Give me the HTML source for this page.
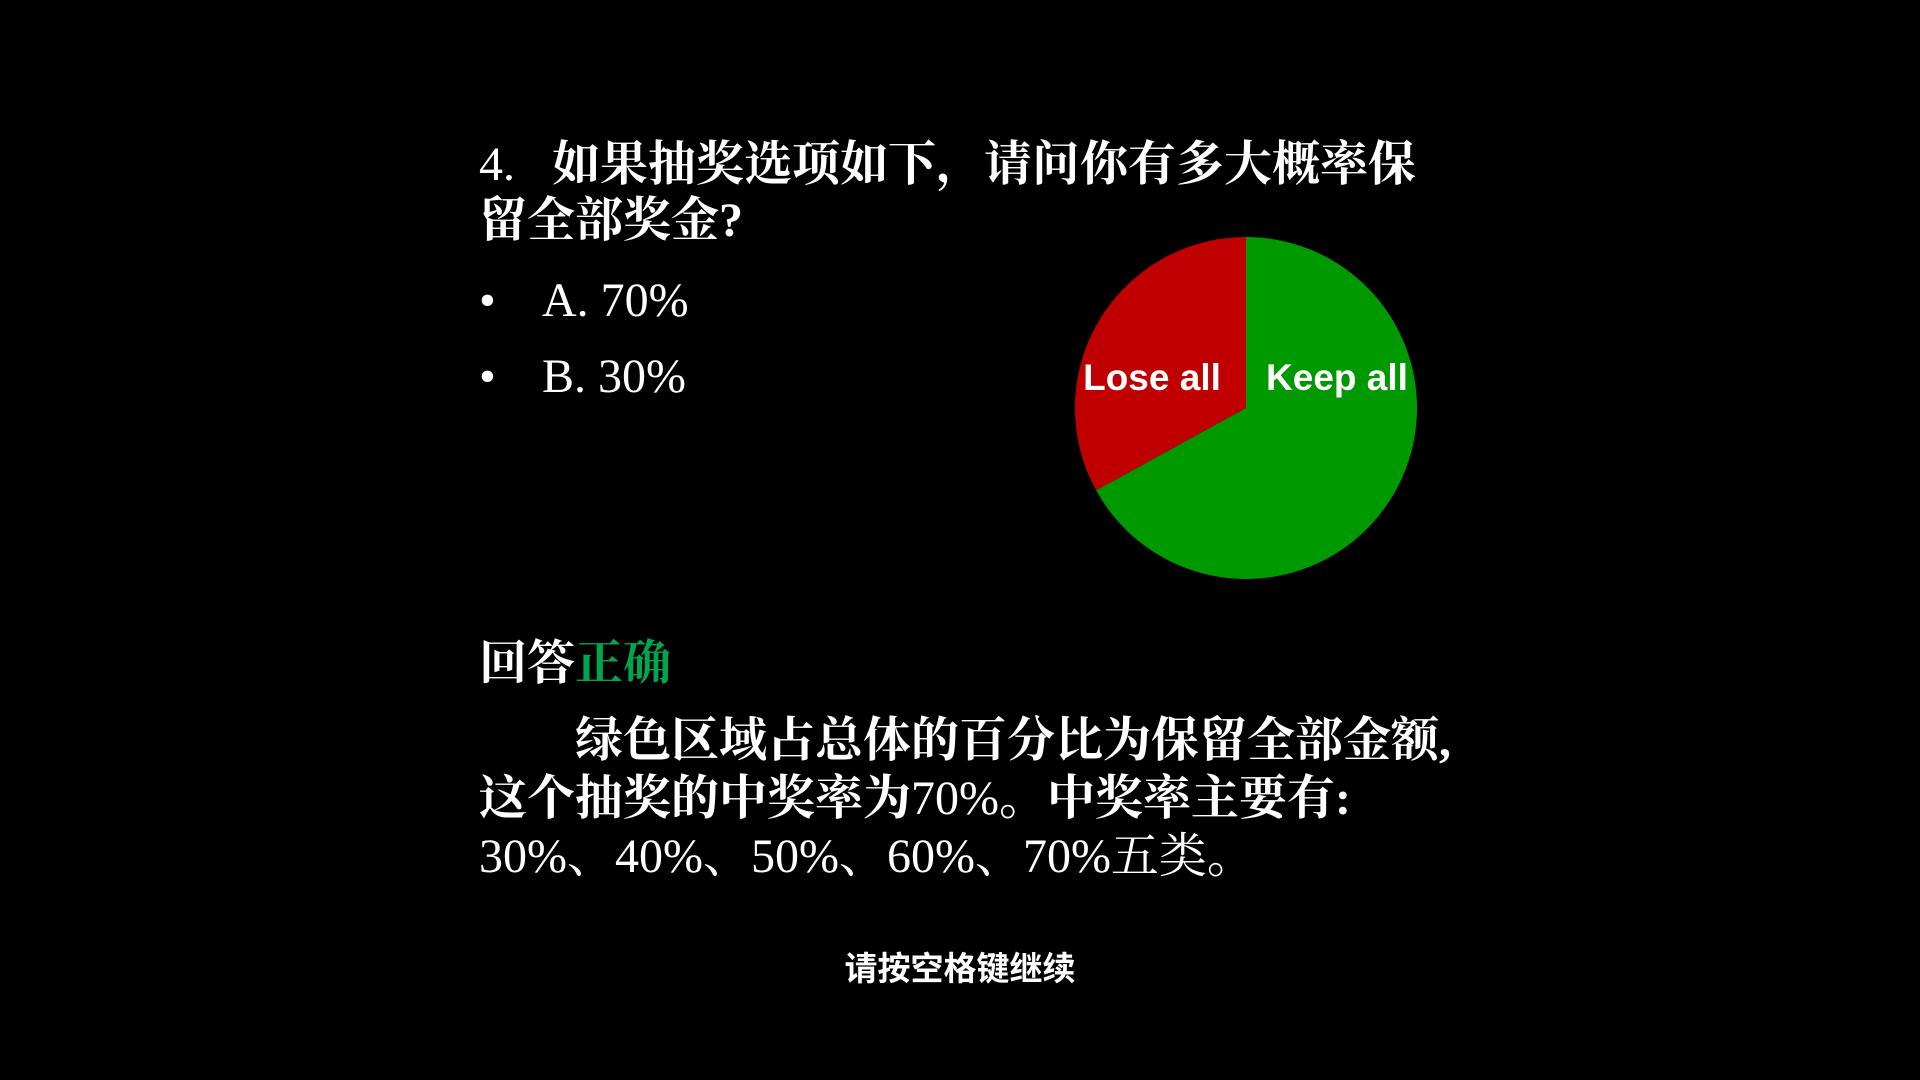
<!DOCTYPE html>
<html><head><meta charset="utf-8">
<style>
html,body{margin:0;padding:0;background:#000;}
#slide{position:relative;width:1920px;height:1080px;background:#000;overflow:hidden;color:#fff;font-family:"Liberation Serif","Noto Serif CJK SC",serif;}
.t{position:absolute;white-space:nowrap;line-height:1;}
.b{font-weight:bold;}
</style></head><body>
<div id="slide">
  <div class="t" style="left:479px;top:141px;font-size:48px;">4.<span style="display:inline-block;width:37px"></span><span class="b">如果抽奖选项如下，请问你有多大概率保</span></div>
  <div class="t b" style="left:479px;top:197px;font-size:48px;">留全部奖金?</div>
  <div class="t" style="left:479px;top:277px;font-size:48px;"><span style="display:inline-block;width:63px">•</span>A. 70%</div>
  <div class="t" style="left:479px;top:353px;font-size:48px;"><span style="display:inline-block;width:63px">•</span>B. 30%</div>

  <svg id="pie" style="position:absolute;left:0;top:0" width="1920" height="1080"></svg>

  <div class="t b" style="left:479px;top:640px;font-size:48px;">回答<span style="color:#00a64f">正确</span></div>
  <div class="t b" style="left:575px;top:717px;font-size:48px;">绿色区域占总体的百分比为保留全部金额,</div>
  <div class="t b" style="left:479px;top:775px;font-size:48px;">这个抽奖的中奖率为<span style="font-weight:normal">70%</span>。中奖率主要有:</div>
  <div class="t" style="left:479px;top:833px;font-size:48px;">30%、40%、50%、60%、70%五类。</div>
  <div class="t b" style="left:0;width:1920px;text-align:center;top:952px;font-size:33px;font-family:'Liberation Sans','Noto Sans CJK SC',sans-serif;">请按空格键继续</div>
</div>
<script>
const categories = ["Keep all", "Lose all"];
const values = [67, 33];
const colors = ["#009900", "#c00000"];
const svg = document.getElementById('pie');
const NS = "http://www.w3.org/2000/svg";
const cx = 1246, cy = 408, r = 171;
const total = values.reduce((a,b)=>a+b,0);
function pt(a){ return [cx + r*Math.sin(a), cy - r*Math.cos(a)]; }
let start = 0;
values.forEach((v,i)=>{
  const sweep = v/total*2*Math.PI;
  const end = start + sweep;
  const [x1,y1] = pt(start), [x2,y2] = pt(end);
  const large = sweep > Math.PI ? 1 : 0;
  const p = document.createElementNS(NS,'path');
  p.setAttribute('d', `M${cx},${cy} L${x1},${y1} A${r},${r} 0 ${large} 1 ${x2},${y2} Z`);
  p.setAttribute('fill', colors[i]);
  
  
  svg.appendChild(p);
  start = end;
});
const labelX = [1337, 1152];
categories.forEach((c,i)=>{
  const t = document.createElementNS(NS,'text');
  t.setAttribute('x', labelX[i]);
  t.setAttribute('y', 390);
  t.setAttribute('text-anchor','middle');
  t.setAttribute('fill','#fff');
  t.setAttribute('font-size','37');
  t.setAttribute('font-weight','bold');
  t.setAttribute('font-family','"Liberation Sans", sans-serif');
  t.textContent = c;
  
  
  svg.appendChild(t);
});
</script>
</body></html>
